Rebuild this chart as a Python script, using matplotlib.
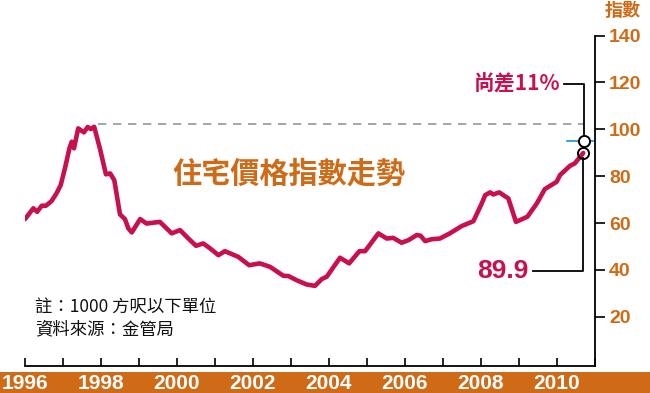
import matplotlib.pyplot as plt
from matplotlib.patches import Rectangle

# 住宅價格指數
years = [1996.00, 1996.22, 1996.32, 1996.44, 1996.55, 1996.70, 1996.83, 1996.94,
         1997.05, 1997.17, 1997.23, 1997.29, 1997.40, 1997.55, 1997.65, 1997.73,
         1997.82, 1997.97, 1998.13, 1998.24, 1998.35, 1998.50, 1998.63, 1998.72,
         1998.81, 1999.03, 1999.20, 1999.55, 1999.86, 2000.08, 2000.30, 2000.50,
         2000.69, 2000.87, 2001.09, 2001.26, 2001.61, 2001.90, 2002.18, 2002.45,
         2002.80, 2002.93, 2003.15, 2003.41, 2003.63, 2003.81, 2003.94, 2004.29,
         2004.53, 2004.80, 2004.95, 2005.30, 2005.52, 2005.69, 2005.91, 2006.09,
         2006.31, 2006.41, 2006.53, 2006.70, 2006.92, 2007.18, 2007.49, 2007.80,
         2008.02, 2008.11, 2008.24, 2008.32, 2008.48, 2008.72, 2008.92, 2009.22,
         2009.47, 2009.68, 2009.99, 2010.08, 2010.34, 2010.47, 2010.69]
index = [61.7, 66.3, 64.8, 67.4, 67.4, 69.4, 72.7, 76.2,
         83.3, 91.9, 94.7, 91.9, 100.4, 98.7, 101.0, 100.1,
         101.1, 91.9, 80.8, 81.2, 78.3, 63.7, 61.7, 57.7,
         56.0, 61.7, 59.8, 60.5, 55.6, 57.0, 53.4, 50.3,
         51.3, 49.2, 46.3, 48.0, 45.6, 42.0, 42.8, 41.3,
         37.5, 37.4, 35.6, 33.8, 33.2, 36.1, 37.1, 45.2,
         42.8, 48.0, 48.0, 55.6, 53.4, 53.7, 51.6, 52.7,
         54.9, 54.6, 52.3, 53.1, 53.4, 55.6, 58.7, 60.8,
         68.4, 71.9, 73.1, 72.2, 73.1, 70.5, 60.5, 62.7,
         68.4, 74.5, 77.6, 80.5, 84.4, 85.5, 89.9]

peak_level = 102.2
target_level = 95.1
label_years = [1996, 1998, 2000, 2002, 2004, 2006, 2008, 2010]
y_ticks = [20, 40, 60, 80, 100, 120, 140]

ORANGE = '#CF6A17'
RED = '#C8104E'
NUM_FONT = ['Liberation Sans Narrow', 'Liberation Sans']
CJK_FONT = ['Noto Sans CJK TC', 'DejaVu Sans']

plt.rcParams['font.family'] = CJK_FONT

fig = plt.figure(figsize=(6.5, 3.93), dpi=100)
W, H = 650, 393
ax = fig.add_axes([25 / W, (H - 366) / H, 570 / W, (366 - 35.6) / H])

# 底部橙色條
band = Rectangle((0, 0), 1, 21.5 / H, transform=fig.transFigure,
                 facecolor=ORANGE, edgecolor='none', zorder=-1)
fig.patches.append(band)

ax.plot(years, index, color=RED, lw=3.3, solid_joinstyle='round',
        solid_capstyle='round', zorder=3)

# 高峰虛線
ax.plot([1997.92, 2010.72], [peak_level, peak_level], color='#8A99A3',
        lw=1.2, ls=(0, (5, 4)), zorder=2)
# 目標藍線
ax.plot([2010.26, 2011.0], [target_level, target_level], color='#1E8FD8',
        lw=1.2, zorder=2)

# 引線
ax.plot([2010.18, 2010.72, 2010.72], [119.3, 119.3, target_level + 2],
        color='black', lw=1.3, zorder=4)
ax.plot([2010.69, 2010.69, 2009.37], [index[-1] - 2, 39.6, 39.6],
        color='black', lw=1.3, zorder=4)

ax.plot([2010.72], [target_level], marker='o', ms=8, mfc='white', mec='black',
        mew=1.4, zorder=5)
ax.plot([2010.69], [index[-1]], marker='o', ms=8, mfc='none', mec='black',
        mew=1.4, zorder=5)

ax.text(2010.1, 119.3, '尚差11%', color=RED, fontsize=15, fontweight='heavy',
        ha='right', va='center', family=CJK_FONT)
ax.text(2009.25, 39.6, '89.9', color=RED, fontsize=19, fontweight='bold',
        ha='right', va='center', family=NUM_FONT)

ax.text(2002.95, 80.9, '住宅價格指數走勢', color=ORANGE, fontsize=21,
        fontweight='heavy', ha='center', va='center')
ax.text(1996.26, 24.0, '註：1000 方呎以下單位', fontsize=12.5, color='#111111',
        ha='left', va='center')
ax.text(1996.26, 14.5, '資料來源：金管局', fontsize=12.5, color='#111111',
        ha='left', va='center')

ax.set_xlim(1996, 2011)
ax.set_ylim(-1, 140)

for s in ['left', 'top']:
    ax.spines[s].set_visible(False)
for s in ['bottom', 'right']:
    ax.spines[s].set_linewidth(1.3)

ax.set_xticks(label_years)
ax.set_xticklabels([str(y) for y in label_years], color='white',
                   fontsize=15, fontweight='bold', family=NUM_FONT)
ax.set_xticks([y for y in range(1997, 2012) if y not in label_years], minor=True)
ax.tick_params(axis='x', which='both', direction='in', length=6, width=1.2, pad=6)

ax.yaxis.tick_right()
ax.set_yticks(y_ticks)
ax.set_yticklabels([str(v) for v in y_ticks], color=ORANGE, fontsize=14,
                   fontweight='bold', family=['Liberation Sans'])
ax.tick_params(axis='y', direction='out', length=7, width=1.2, pad=3)

fig.text(623 / W, (H - 11) / H, '指數', color=ORANGE, fontsize=13,
         fontweight='heavy', ha='center', va='center')

fig.savefig('out.png', dpi=100)
